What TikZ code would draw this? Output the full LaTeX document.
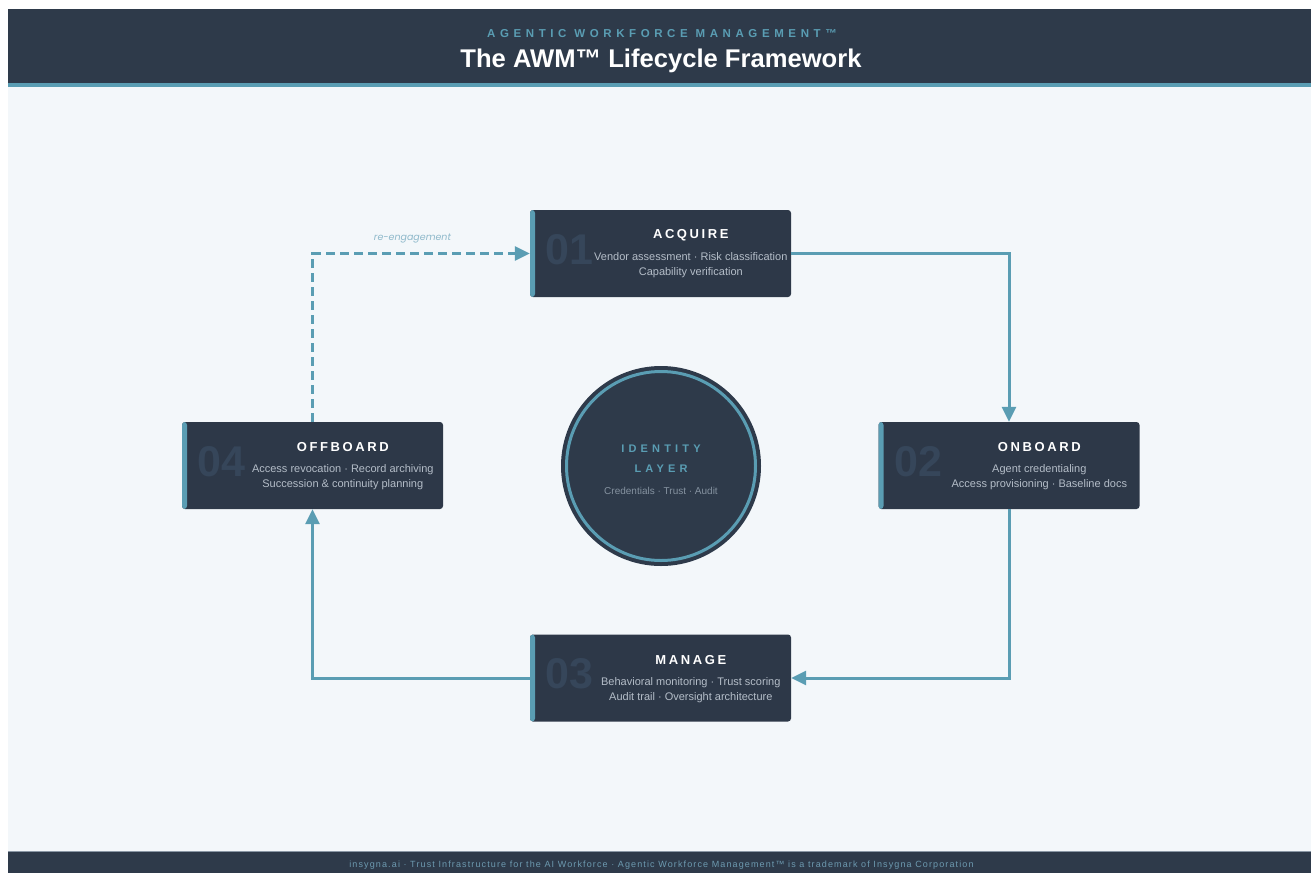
\documentclass[tikz,border=0pt]{standalone}
\usepackage{fontspec}
\setmainfont{Liberation Sans}
\newfontfamily\notefont{Poppins}
\usepackage{tikz}
\usetikzlibrary{arrows.meta,positioning}

\definecolor{navy}{HTML}{2E3A4A}
\definecolor{boxnavy}{HTML}{2D3848}
\definecolor{awmteal}{HTML}{5A9DB3}
\definecolor{pagebg}{HTML}{F3F7FA}
\definecolor{rulegray}{HTML}{8A97A5}
\definecolor{numgray}{HTML}{36465A}
\definecolor{desctext}{HTML}{B4BDC8}
\definecolor{coretext}{HTML}{8592A0}
\definecolor{notecolor}{HTML}{8DB8CA}
\definecolor{foottext}{HTML}{6D9AB0}

\begin{document}
\begin{tikzpicture}[x=1pt,y=-1pt,
  stepbox/.style={rectangle,rounded corners=3pt,fill=boxnavy,inner sep=0pt,
    minimum width=261pt,minimum height=87pt,
    path picture={\fill[awmteal] (path picture bounding box.north west)
      rectangle ([xshift=5pt]path picture bounding box.south west);}},
  stepnum/.style={text=numgray,font=\bfseries\fontsize{43}{43}\selectfont},
  steptitle/.style={text=white,font=\bfseries\fontsize{13}{15}\selectfont\addfontfeature{LetterSpace=20}},
  stepdesc/.style={text=desctext,align=center,font=\fontsize{11}{15}\selectfont},
  flow/.style={->,>={Triangle[length=15pt,width=14pt]},draw=awmteal,line width=3pt}]

  % page, header band and footer band
  \fill[white] (0,0) rectangle (1311,873);
  \useasboundingbox (0,0) rectangle (1311,873);
  \fill[navy] (8,9) rectangle (1311,83);
  \fill[awmteal] (8,83) rectangle (1311,87);
  \fill[pagebg] (8,87) rectangle (1311,851);
  \fill[rulegray] (8,851) rectangle (1311,852);
  \fill[navy] (8,852) rectangle (1311,873);

  \node[text=awmteal,font=\bfseries\fontsize{11.5}{13}\selectfont\addfontfeature{LetterSpace=40}]
    (kicker) at (662,33.5) {AGENTIC WORKFORCE MANAGEMENT™};
  \node[text=white,font=\bfseries\fontsize{25.6}{28}\selectfont] (headline) at (661,60.5)
    {The AWM™ Lifecycle Framework};
  \node[text=foottext,font=\fontsize{9}{10}\selectfont\addfontfeature{LetterSpace=12.5}] (footer) at (661.5,865)
    {insygna.ai · Trust Infrastructure for the AI Workforce · Agentic Workforce Management™ is a trademark of Insygna Corporation};

  % the four stages
  \node[stepbox] (acq) at (660.5,253.5) {};
  \node[stepbox] (onb) at (1009,465.5) {};
  \node[stepbox] (mng) at (660.5,678) {};
  \node[stepbox] (off) at (312.5,465.5) {};

  \node[stepnum] at ([xshift=40pt,yshift=4pt]acq.west) {01};
  \node[steptitle] at ([xshift=161pt,yshift=-25.5pt]acq.north west) {ACQUIRE};
  \node[stepdesc] at ([xshift=161pt,yshift=-55.5pt]acq.north west)
    {Vendor assessment · Risk classification\\Capability verification};

  \node[stepnum] at ([xshift=40pt,yshift=4pt]onb.west) {02};
  \node[steptitle] at ([xshift=161pt,yshift=-25.5pt]onb.north west) {ONBOARD};
  \node[stepdesc] at ([xshift=161pt,yshift=-55.5pt]onb.north west)
    {Agent credentialing\\Access provisioning · Baseline docs};

  \node[stepnum] at ([xshift=40pt,yshift=4pt]mng.west) {03};
  \node[steptitle] at ([xshift=161pt,yshift=-25.5pt]mng.north west) {MANAGE};
  \node[stepdesc] at ([xshift=161pt,yshift=-55.5pt]mng.north west)
    {Behavioral monitoring · Trust scoring\\Audit trail · Oversight architecture};

  \node[stepnum] at ([xshift=40pt,yshift=4pt]off.west) {04};
  \node[steptitle] at ([xshift=161pt,yshift=-25.5pt]off.north west) {OFFBOARD};
  \node[stepdesc] at ([xshift=161pt,yshift=-55.5pt]off.north west)
    {Access revocation · Record archiving\\Succession \& continuity planning};

  % identity layer in the middle
  \node[circle,fill=navy,minimum size=200pt,inner sep=0pt] (core) at (661,466) {};
  \draw[awmteal,line width=3pt] (core.center) circle (94.5pt);
  \node[text=awmteal,align=center,font=\bfseries\fontsize{11}{20}\selectfont\addfontfeature{LetterSpace=38}]
    at ([yshift=7pt]core.center) {IDENTITY\\LAYER};
  \node[text=coretext,font=\fontsize{10}{12}\selectfont] at ([yshift=-25pt]core.center)
    {Credentials · Trust · Audit};

  % lifecycle loop
  \draw[flow] (acq.east) -| (onb.north);
  \draw[flow] (onb.south) |- (mng.east);
  \draw[flow] (mng.west) -| (off.south);
  \draw[flow,dash pattern=on 9pt off 5pt] (off.north) |-
    node[pos=0.73,above=6pt,text=notecolor,font=\notefont\itshape\fontsize{9.5}{11}\selectfont]
    {re-engagement} (acq.west);

\end{tikzpicture}
\end{document}
